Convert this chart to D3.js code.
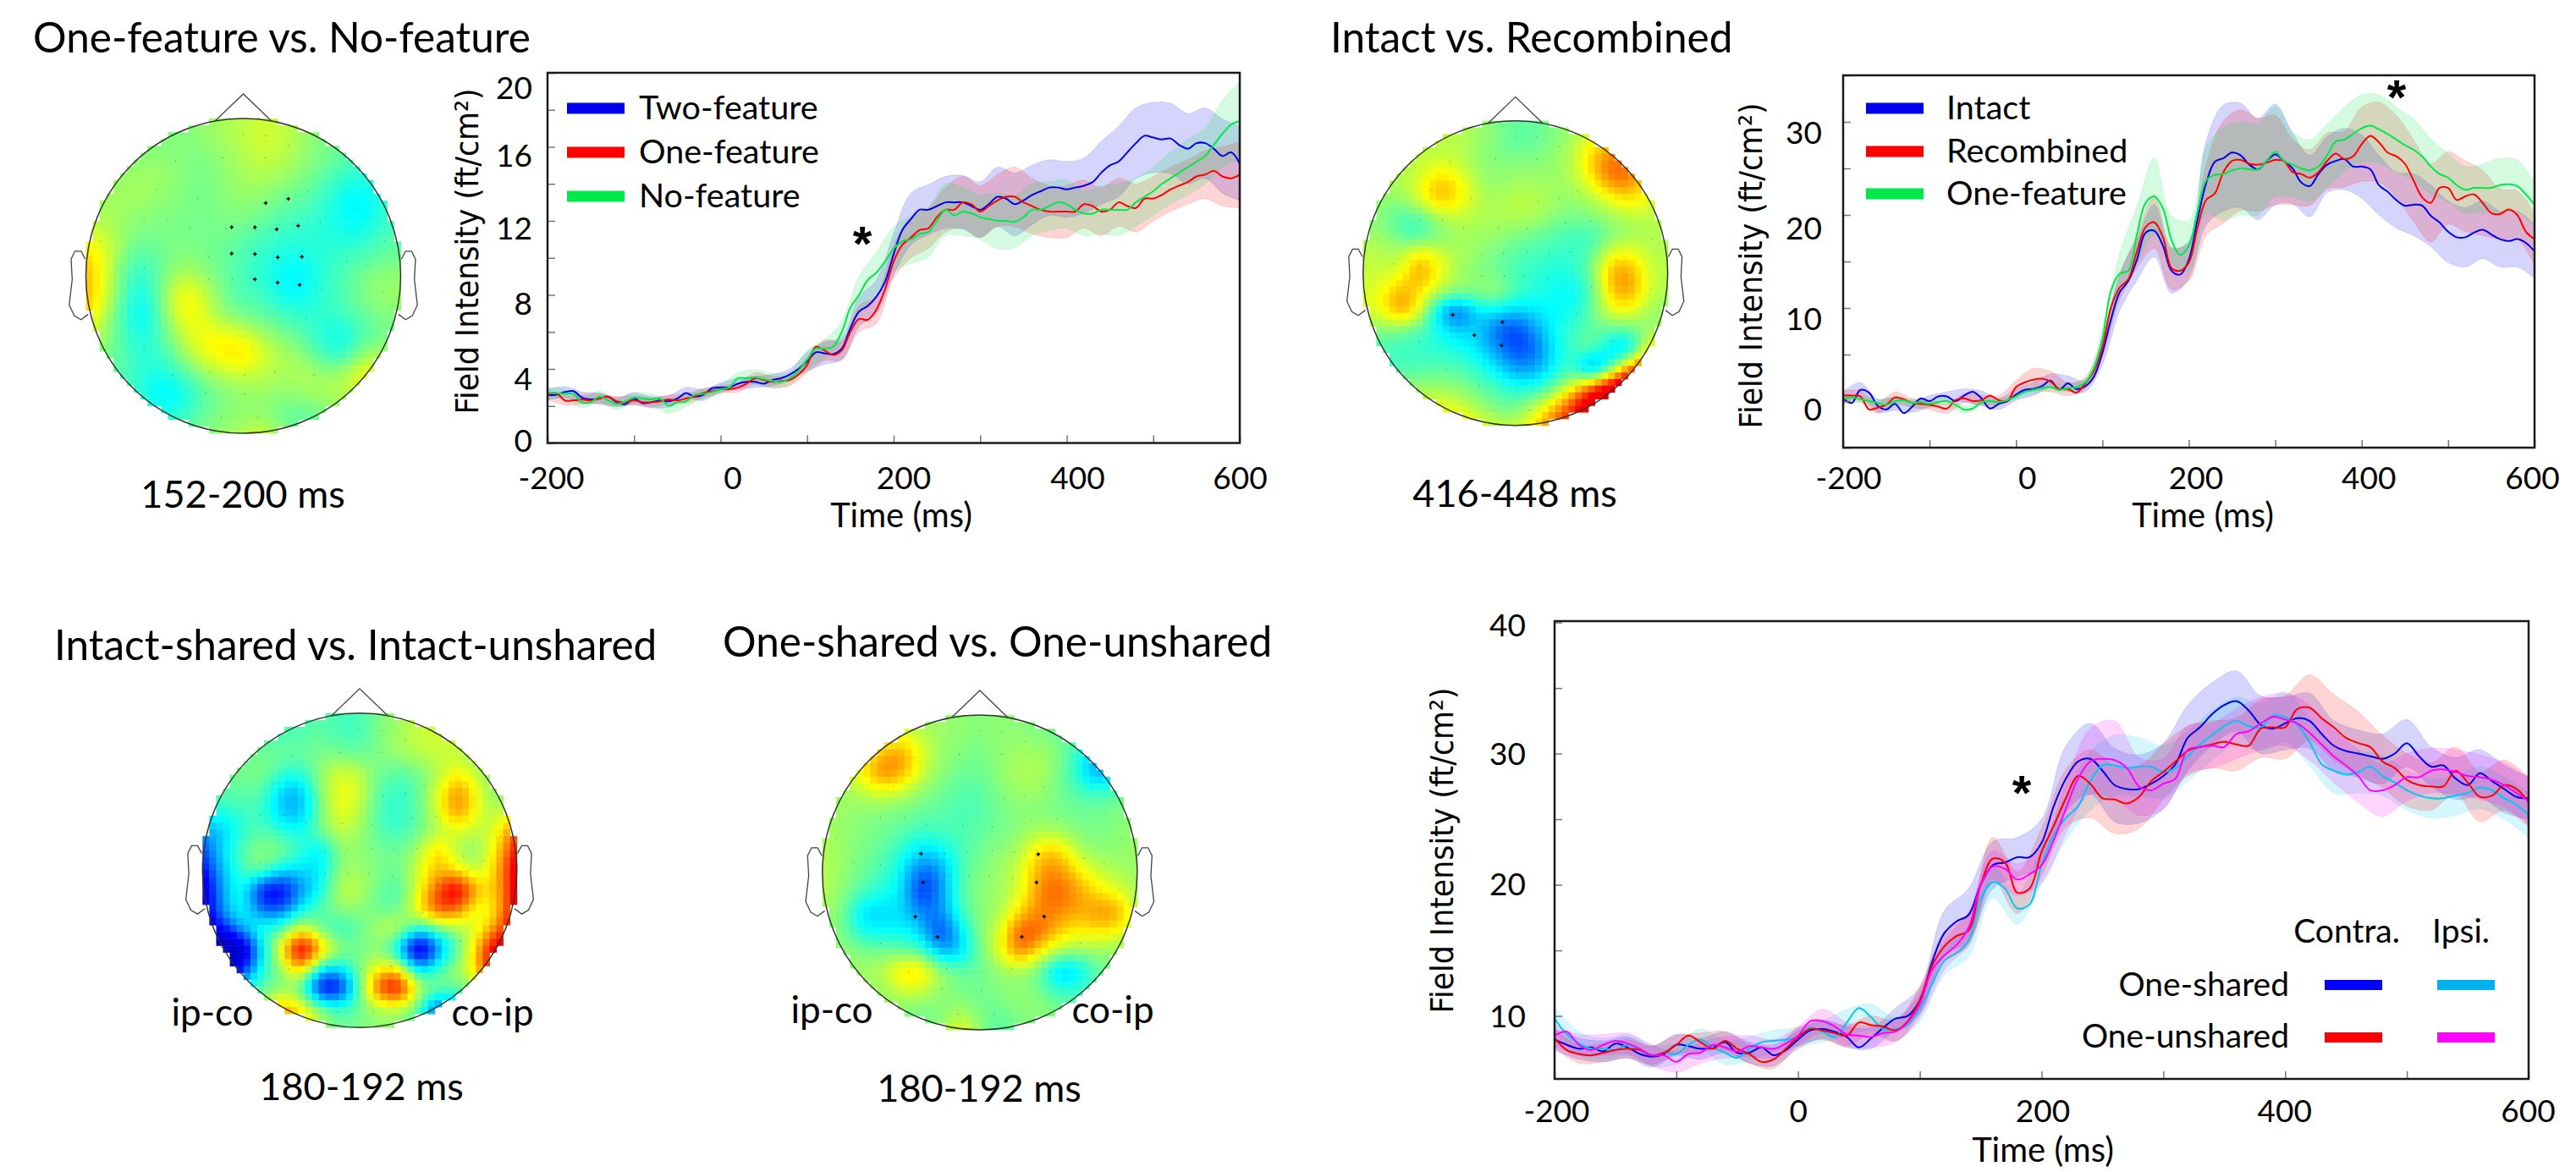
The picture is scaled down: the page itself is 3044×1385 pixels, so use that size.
<!DOCTYPE html>
<html>
<head>
<meta charset="utf-8">
<title>Field intensity and topographies</title>
<script src="https://cdn.jsdelivr.net/npm/d3@7"></script>
<style>
  html, body { margin: 0; background: #fff; }
  text { font-family: Lato, sans-serif; fill: #000; }
</style>
</head>
<body>
<svg id="chart" width="3044" height="1385"></svg>
<script>
// time axis, one value every 10 ms (means) and every 20 ms (error half widths)
const times = d3.range(-200, 601, 10);
const errTimes = d3.range(-200, 601, 20);

const twoFeature = [2.6,2.6,2.75,2.8,2.45,2.35,2.4,2.5,2.2,2.1,2.4,2.15,2.2,2.3,2.25,2.4,2.7,2.5,2.6,2.95,3,3,3.2,3.3,3.3,3.2,3.4,3.5,3.7,4,4.4,4.9,4.85,4.8,5.1,6.2,7.1,7.4,7.9,8.7,10.2,11.5,12.1,12.6,12.6,12.8,13,13,13,12.8,12.6,12.9,13.3,13.2,12.9,13.1,13.4,13.6,13.8,13.8,13.7,13.8,13.9,14.1,14.6,15,15.2,15.7,16.2,16.6,16.5,16.4,16.45,16.1,15.9,16.2,16.2,15.9,15.5,15.7,15.1];
const oneFeature = [2.6,2.7,2.3,2.3,2.35,2.3,2.4,2.5,2.25,2.2,2.3,2.2,2.2,2.25,2.35,2.3,2.4,2.5,2.7,2.8,2.9,2.9,3,3.2,3.5,3.4,3.3,3.35,3.4,3.7,4.2,5.2,5,4.75,5,6,6.7,6.65,7.2,8.3,9.8,10.7,11.1,11.5,11.6,12.2,12.6,12.6,13,12.9,12.5,12.8,13.1,13.3,13.3,13,12.8,12.6,12.5,12.5,12.5,12.5,12.9,12.8,12.5,12.6,13,12.8,12.7,13.2,13.2,13.4,13.7,13.9,14.1,14.4,14.5,14.7,14.4,14.3,14.5];
const noFeature = [2.7,2.7,2.65,2.65,2.2,2.2,2.5,2.3,2.1,2.25,2.45,2.4,2.35,2.4,2,2.2,2.25,2.6,2.65,2.75,2.9,3,3.5,3.5,3.55,3.45,3.35,3.3,3.5,3.9,4.5,5.1,5.1,5.2,6,7.3,8,8.8,9.2,9.8,10.5,10.9,11,11.3,11.4,12,12.6,12.3,12.5,12.4,12.2,12.1,12,12,11.95,12.2,12.6,12.6,12.8,13,12.9,12.6,12.4,12.4,12.6,12.6,12.6,12.6,13,13.3,13.6,14,14.3,14.6,14.9,15.2,15.5,16.1,16.7,17.2,17.4];
const twoFeatureErr = [.3,.3,.3,.3,.25,.3,.3,.3,.3,.3,.25,.3,.3,.3,.3,.5,.6,.6,.8,.9,1.1,1.4,1.35,1.4,1.45,1.5,1.6,1.7,1.6,1.5,1.5,1.5,1.7,1.9,1.9,1.9,1.9,1.9,1.9,2,2];
const oneFeatureErr = [.25,.25,.25,.25,.25,.25,.25,.25,.25,.25,.2,.25,.3,.3,.3,.4,.55,.5,.7,.75,.9,1.1,1.1,1.2,1.4,1.4,1.4,1.6,1.5,1.4,1.4,1.3,1.3,1.3,1.3,1.2,1.2,1.2,1.3,1.6,1.8];
const noFeatureErr = [.3,.25,.3,.3,.3,.3,.3,.4,.3,.25,.25,.3,.4,.4,.35,.5,.5,.6,1,1.1,1.2,1.3,1.35,1.4,1.3,1.2,1.5,1.4,1.4,1.3,1.3,1.2,1.3,1.4,1.3,1.3,1.4,1.5,1.5,1.8,2.1];

const intact = [.3,-.2,1.2,.9,-.5,-.9,-.3,-1.3,-.6,.3,0,.5,.5,0,.6,1,.3,-.8,-.3,0,.7,1.2,1.3,1.6,2.2,1.2,1.9,1.3,1.6,2.6,5.2,8.8,11.7,12.9,15.2,18.1,18.3,16.7,14,13.6,15.2,19.5,23.4,25.7,26.1,26.7,26.4,25.4,24.9,25.8,26.5,25.8,25,23.5,23.1,24.4,25.4,25.8,26,25.2,25.2,24.9,23.2,22.5,21.6,21,21.1,21,19.9,19.2,18.2,17.6,17.6,18.1,18.4,17.9,17.4,17.2,17.4,17,16.1];
const recombined = [.6,.6,.5,-.9,-.7,-.4,.4,.2,-.2,-.3,-.4,-.6,-.8,.1,.3,0,.1,.6,.1,0,1.5,2,2.3,2.4,2.1,1.3,1.3,.9,1.9,3.2,5.8,10.1,12.2,13.1,16.1,18.7,19.2,17.6,14.3,14,14.9,18.6,21.6,22.3,24.6,25.8,25.9,25.5,25.4,25.6,25.9,25.8,24.6,24.4,24,24.6,25.8,26.6,26,26.3,27.6,28.5,27.8,26.7,26.3,25.5,23.7,21.9,21.3,22.9,22.9,21.6,22,22.2,21.3,20.2,20.1,20.6,20,18.2,17.4];
const oneFeatureB = [.2,.4,.2,0,-.2,-.4,0,.1,-.2,-.1,-.3,-.1,0,-.4,-.9,-.8,-.1,0,-.1,.1,.5,1,1.2,1.4,1.5,1.2,1.4,1.5,2,3.5,6.7,11.9,13.7,14,17.9,21.3,22,20.7,17.3,15.7,16.7,20.4,23.7,24.3,24.4,24.8,25,24.9,24.9,25.8,26.8,25.8,25.4,25,24.8,25.2,26.4,27.9,28.1,28.7,29.3,29.6,29.2,28.7,28.1,27.5,27,26.3,25.2,24.4,24,23.2,22.7,22.9,22.9,22.9,23.2,23.3,23.1,22.2,21.1];
const intactErr = [.7,.8,.7,.7,.6,.6,.5,.7,.8,.6,.6,.7,.7,.8,.6,1.3,2,2.2,2.8,2.4,2,4.5,5.7,5.6,5.4,5.4,3.8,3.3,3,3.3,3.4,3.2,3,3.3,3.3,3.3,3.2,3.1,3,3,2.9];
const recombinedErr = [.5,.6,.6,.6,.5,.5,.5,.5,.5,.5,.7,1.2,1.1,.7,.6,1,1.3,1.8,2.8,2.3,2,3.8,5.5,5.4,5,4.8,3.5,3,3,3,4,4.3,4.4,4.4,4.2,3.9,3.8,3.5,2.7,2.6,2.8];
const oneFeatureBErr = [.4,.4,.4,.4,.4,.4,.4,.4,.3,.3,.3,.4,.4,.4,.5,1.2,2.2,3,4.1,2.6,2.7,3.6,5,5,4.9,4.8,3.5,3.3,3.4,3.5,3.6,3.7,3.5,3.3,3,2.6,2.5,2.6,2.9,2.8,2.4];

const sharedContra = [8.2,7.8,7.5,7.6,7.3,7.9,7.6,7.1,6.9,7.1,7.8,7.7,7.5,7.6,8,7.2,7.2,7.6,7,7.4,8.2,8.9,9,8.8,8.4,7.6,8.3,9.1,9.8,10,11.2,14.1,16.3,17.2,17.7,20,21.5,21.7,22.1,22.1,23.2,26,28.1,29.4,29.6,28.7,27.6,27.3,27.3,27.7,28.3,29.2,31.2,32,33,33.7,34,33.3,32.2,31.9,32.3,32.7,32.5,31.5,30.6,30.2,30,29.8,29.6,30,30.8,29.8,29,29.1,28.1,27.6,28.5,27.9,27.3,26.7,26.6];
const unsharedContra = [8.3,7.4,7.1,7,7.2,7.4,7.5,7.4,7,7.2,7.8,8.5,8,7.5,8.1,7.5,7.1,6.5,6.7,7.5,8.4,9,8.9,8.7,8.5,9.5,9.3,9.2,8.9,9.6,11.2,13.8,15.3,16.1,16.5,20,22,21.7,19.4,19.7,22.5,24.5,26.6,28.3,27.7,26.6,26.5,26.2,26.7,27.9,28.6,29.4,30.2,30.5,30.7,30.9,30.7,30.6,31.9,32,32,33.4,33.5,32.7,32,31.2,30.8,30.5,29.4,28.9,28,27.6,27.5,27.5,28.7,27.8,26.7,26.8,27.6,27.3,26.3];
const sharedIpsi = [9.8,8.6,7.9,7.5,7.5,7.4,7.8,7.4,7,7.2,7.1,7.8,8.2,7.6,7.2,6.8,7.5,8,8.1,8.2,8.4,9.1,8.8,8.4,9.5,10.6,9.9,9,9,9.3,10.6,12.4,14.2,14.8,15.7,18.9,20.2,19.7,18.2,18.5,21.5,23.8,25.1,26,27.9,29.1,29.1,28.9,29,29,28.6,28.9,29.8,30.7,31.4,32.1,32.5,32.1,32,32.9,32.8,32.2,30.9,29.2,28.7,28.4,28.6,29,28.3,27.8,27.2,26.8,26.6,26.6,26.8,27,27.4,27.2,26.6,26.1,25.3];
const unsharedIpsi = [8.5,8.8,7.8,7.4,7.8,8.1,7.9,7.5,7,7,6.5,7.1,7.2,7.8,7.6,7.3,7.7,7.6,7.5,7.9,8.5,9.6,9.6,9.2,8.6,8.5,8.4,8.7,8.8,9.5,10.9,13.5,14.6,15.4,16.7,20,21.4,21.2,20.4,20.8,21.5,23.4,25.8,28.1,29.4,29.6,29.5,28.9,27.5,27.2,27.7,28.1,30.3,30.5,30.6,30.5,31.5,31.7,32.3,32.8,32.6,32.3,31.6,30.7,29.8,29.1,28.3,27.2,27.2,27.6,28.2,28.2,28.7,28.8,28.6,28.3,28.2,28,27.6,27,26.4];
const sharedContraErr = [.8,.8,.8,.8,.8,.8,.8,.8,.8,.8,.7,.7,.8,.8,.8,1,1.7,2,1.8,1.5,1.8,2.5,2.7,2.8,2.6,2.5,2.5,2.4,2.3,2.2,2,2.1,1.9,1.8,1.9,1.8,1.5,1.6,1.8,1.8,1.6];
const unsharedContraErr = [.7,.7,.7,.7,.7,.7,.7,.7,.7,.7,.7,.7,.8,.7,.8,1,1.1,1.2,1.6,1.6,1.8,2.2,2.6,2.6,2.4,2.1,1.9,1.8,2,2.2,2.4,2.5,2.5,2.4,2,2,1.8,1.8,1.9,1.9,1.9];
const sharedIpsiErr = [.9,.9,.8,.8,.8,.8,.8,.9,.9,.8,.7,.8,1,1,.9,1,1.1,1.2,1.2,1.2,1.4,1.7,2.2,2.3,2.2,2,1.9,1.9,1.8,1.8,1.9,1.8,1.7,1.6,1.5,1.5,1.5,1.5,1.6,1.6,1.7];
const unsharedIpsiErr = [.8,.8,.8,.8,.8,.8,.8,.8,.8,.7,.7,.9,.9,.8,.8,1,1.1,1.2,1.2,1.2,1.4,1.9,2.5,3,2.2,1.9,1.8,1.7,1.9,2,2,2.1,2,2,2,1.8,1.7,1.7,1.7,1.7,1.8];

// field maps, read on a 17x17 grid over the head box, -10 blue to 10 red
const mapOneFeature = [
  [0,0,0,0,0,0,.3,.6,.9,1.2,1,.5,0,-.3,-.4,-.4,-.4],
  [0,0,0,0,0,0,.3,.6,.9,1.3,1.1,.5,0,-.3,-.4,-.4,-.4],
  [0,0,0,.2,.2,0,-.1,.3,.7,1.1,.9,.3,-.1,-.5,-.7,-.6,-.4],
  [.3,.3,.4,.6,.4,.1,-.2,.2,.6,.7,.4,0,-.5,-1.2,-1.5,-1,-.5],
  [.4,.5,.6,.5,.2,0,-.2,.1,.3,.2,-.2,-.5,-1,-1.8,-2.2,-1.4,-.6],
  [.6,.6,.3,.1,0,-.1,-.2,0,0,-.3,-.7,-1,-1.3,-1.8,-2.2,-1.4,-.7],
  [1.5,1.2,.3,-.2,-.1,-.1,-.2,-.2,-.5,-.9,-1.2,-1.3,-1.4,-1.6,-1.5,-.9,-.6],
  [2.5,1.6,-.3,-.8,-.2,.1,-.1,-.4,-.8,-1.2,-1.6,-1.6,-1.3,-1,-.8,-.5,-.3],
  [3,1.6,-.8,-1.4,0,.9,.4,-.4,-.9,-1.3,-2,-2.2,-1.3,-.8,-.2,.3,.3],
  [3,1.5,-1,-1.9,.3,2.3,1.2,-.2,-.8,-1,-1.8,-2,-1.2,-.8,-.1,.4,.4],
  [2.5,.8,-1.3,-2.3,.1,2,1.5,.2,-.3,-.5,-.9,-1.2,-1.2,-1,-.5,0,0],
  [1.5,.3,-1,-1.7,-.5,1.2,1.9,1.9,1.5,.6,-.1,-.6,-1.5,-1.9,-.9,-.3,-.1],
  [.6,0,-.8,-1.4,-.9,.4,1.7,2.4,2.6,1.4,.7,.3,-.9,-1.5,.3,.6,.3],
  [.2,-.3,-.7,-1.5,-1.7,-.8,.2,.9,1.1,.9,.6,.8,.4,.5,2,2,.7],
  [0,-.3,-.8,-1.6,-2.4,-1.8,-.6,-.1,.3,.4,.2,.4,.7,.9,1.1,.8,.4],
  [0,-.3,-.6,-.9,-1.6,-1.2,-.4,.1,.2,.2,-.4,-.6,-.2,0,.1,.1,0],
  [0,0,-.3,-.3,-.6,-.3,0,.4,.7,1.3,.2,-.7,-.4,-.2,0,0,0]
];
const mapIntact = [
  [1,1,1,1,1,1,.5,0,-.5,-.5,0,.5,1.5,2,2,2,2],
  [1,1,1,1,1,1,.5,0,-.8,-.6,0,.6,2,2.8,3,2.5,2],
  [.8,.8,1,1,1.2,1,.3,0,0,0,.3,1,3,5,4,2,1.5],
  [.6,.6,.8,1.5,3,2.2,.6,.2,.5,.5,.4,.8,2.5,5,5,2,1],
  [.5,.5,.5,2,4,2.8,1,.6,1,1,.6,.4,.8,2,3,2,1],
  [0,0,-1,-.8,.9,1.2,.8,.8,1,.9,.2,-.2,.2,.6,1,1,.8],
  [.5,.5,-.8,-1.5,-.2,.5,.6,.4,0,-.3,-.8,-1,-1.4,-.2,.4,.8,.8],
  [1,1,.8,3,1.5,.8,.3,-.2,-.8,-1,-1.2,-1.4,-.7,2,2.2,1,.8],
  [1.2,1.2,1.5,4.5,2,.5,0,-.4,-1,-1.4,-1.7,-1.7,-.3,4,4.2,1.3,1],
  [1.5,2,4,2.5,1,.5,.3,.8,-1,-1.6,-2,-2.4,-1,3,4.3,1.2,.8],
  [1.5,2,4.5,2,-3.5,-6,-2.5,-2.5,-3,-2.5,-2.2,-2,-.5,2,2,.5,.3],
  [0,0,-.5,-1,-2,-3,-2.8,-5,-6,-4,-2,-1.2,-.5,-.8,-.5,.3,.3],
  [-1,-1,-1.2,-1.2,-1.5,-1.8,-2.5,-4,-5.5,-5,-2.5,-1,0,-3,-4,2.5,4],
  [-1,-1,-1,-1,-.8,-.8,-1.4,-2.5,-4,-4,-2.2,-1,-6,-1.5,5,7,7],
  [0,0,.5,.5,.5,.2,-.5,-1,-1.8,-1.8,-.8,2,5.5,9,10,9,6],
  [1,1,1.5,1.5,1.8,1.5,.5,-.2,-.5,1,3,6,9,10,10,8,6],
  [2,2,2,2.5,3,3,2,1,1,2.5,5,7,8,8,8,8,6]
];
const mapIntactShared = [
  [-1,-1,-1,-1,-1,-.8,-.5,-1,-1,0,.5,1,1,1,.5,.2,0],
  [-1,-1,-1,-1,-1,-.8,-.5,-1,-1,0,.5,1.2,1.3,1.2,.5,.2,0],
  [-.5,-.5,-.5,-.2,-.3,-.3,-.2,-.3,-.6,0,.6,1,1.2,1,0,-.5,-.5],
  [-.3,-.3,-.2,.2,-1,-1.5,.5,1.5,1,-.3,-.7,-.2,.7,2,1,-.3,-.5],
  [-.5,-.5,-.5,-.5,-3,-3.5,.2,2,1.5,-.8,-1.3,-.6,1.5,4.5,1.5,0,.3],
  [-1.5,-1.5,-1,-1,-3,-3.5,-.2,2,1,-1,-1.5,-.5,1.5,4.5,1.5,.5,2],
  [-3.5,-3,-1.5,-.5,-1.5,-2,0,1.2,.5,-.8,-1.2,-.4,.5,1.5,.8,1.5,5],
  [-5,-2.5,-.5,.2,.3,-1,-3,.3,.2,-.2,-.3,.5,3.5,.4,0,2.5,6],
  [-6,-3,-1,.5,-2.5,-2.5,-2.5,.5,.5,0,-.5,1.5,3,2,.5,3,7],
  [-7.5,-3.5,-1,-7,-7,-4,-2,1.2,1,-.5,-1,1.5,5,8,3,2.5,7],
  [-7,-3.5,-1.2,-4.5,-5,-2,-.5,.3,.2,-.5,-.7,2.5,5.5,4.5,.8,2.5,7],
  [-8,-6,-3,-1,-1,2,-.8,-1.8,-.5,1,1.8,-2,-.5,.2,1.5,4,7],
  [-9,-10,-9,-2.5,2,9,4,.5,-.3,.2,-3,-10,-4,-.8,3,8,7],
  [-9,-9,-6,-1.5,0,4,-2.5,-2.5,0,2,2.5,-3.5,-.8,.5,3,8,7],
  [-3,-3,-2,-.5,-.2,-.5,-8,-7,-.5,6,8,1,.3,-.5,.5,3,3],
  [0,0,0,.5,4,2.5,.5,-1,-.3,.5,.5,-.5,-6,-3,-1,0,0],
  [0,0,0,1,4,3,.5,-.5,0,.3,.3,-.5,-5,-3,-1,0,0]
];
const mapOneShared = [
  [.5,.5,.5,.5,.5,.5,.5,.3,0,.3,.2,-.3,-.5,-.8,-1,-1,-1],
  [1,1,1,1.5,2,1.2,.5,.3,.1,.3,.3,0,-.4,-1,-1.5,-1.2,-1],
  [1,1,2,4,5,2,.5,0,-.3,.3,.7,.8,.2,-1.5,-5,-3,-1],
  [1,1,2.5,5.5,4.5,1.5,.2,-.5,-.5,.3,1,1,-.2,-2,-5,-2.5,-.8],
  [.5,.5,1,1.5,1,.2,-.3,-.9,-.9,0,.5,.5,-.2,-.8,-1.2,-.6,-.3],
  [.5,.5,.2,0,-.2,-.5,-.8,-1.1,-1,-.3,.1,.1,-.2,-.3,-.3,0,.3],
  [.8,.5,0,-.3,-.7,-1.5,-1.2,-1,-.6,-.2,.2,1,.8,0,-.2,.2,.5],
  [1,.5,-.2,-.6,-1.8,-3.5,-3,-1.2,-.3,.3,.8,3.5,4,1,.3,.3,.5],
  [1,.5,-.5,-1,-2.5,-6,-5,-1,0,.6,1.5,4.5,5,3,1.5,.8,.5],
  [1,.3,-1,-2,-2.5,-7.5,-5,-.8,.2,.6,1.5,5,6,4.5,3,2,.8],
  [.8,0,-3.5,-3.5,-3,-5,-5,-1.3,.2,.6,3,5,5,4,5,5,1],
  [.5,0,-2.5,-2.5,-2.5,-3,-7.5,-3,.2,1.5,6.5,6,3.5,2.5,3,2.5,.8],
  [.5,.5,0,0,-.5,-1,-4.5,-4,-.2,2,6,3,1,.5,.5,.2,.3],
  [.5,.5,.7,.8,3.5,4,.6,-.4,-.5,.3,.5,-.5,-4.5,-3.5,-.5,0,.2],
  [.5,.5,.5,.5,1.5,1.5,.3,-.2,-.4,.2,.4,0,-1.5,-1.5,-.3,0,.2],
  [.2,.2,.2,.2,.1,-.2,-.2,.8,-.2,-.6,.3,.3,0,-.3,-.1,0,0],
  [0,0,0,0,-.3,-.4,.3,2.5,.2,-1,-.3,0,0,0,0,0,0]
];

// sensor positions in head units
const sensorLayout = [[0,-.9],[.14,-.89],[-.13,-.75],[.14,-.75],[-.43,-.73],[.29,-.83],[-.29,-.49],[.15,-.47],[.29,-.49],[-.55,-.55],[.41,-.54],[-.63,-.35],[-.48,-.35],[-.34,-.3],[-.11,-.3],[.08,-.29],[.33,-.33],[.49,-.34],[-.91,-.22],[-.8,-.06],[-.63,-.05],[-.22,-.12],[-.08,-.13],[.08,-.14],[.22,-.13],[.36,-.14],[.66,-.09],[.79,-.06],[.9,-.22],[-.22,.02],[-.07,.02],[.06,.02],[.21,.04],[.5,.09],[.89,.1],[-.63,.45],[-.45,.63],[-.21,.61],[.01,.63],[.2,.61],[.4,.27],[.64,.45],[.45,.63],[-.24,.74],[.01,.75],[-.14,.9],[.09,.9]];
const sigOneFeature = [[.286,-.489],[.142,-.462],[-.074,-.309],[.074,-.309],[.212,-.296],[.349,-.319],[-.074,-.143],[.074,-.138],[.219,-.117],[.372,-.121],[.074,.021],[.218,.043],[.358,.057]];
const sigIntact = [[-.411,.274],[-.085,.322],[-.269,.407],[-.091,.476]];
const sigIntactShared = [];
const sigOneShared = [[-.373,-.12],[-.36,.063],[-.41,.281],[-.269,.41],[.371,-.116],[.36,.063],[.409,.281],[.267,.41]];
const noseShape = [[-.183,-.98],[0,-1.156],[.183,-.98]];
const earShape = [[1.004,-.107],[1.031,-.157],[1.069,-.157],[1.094,-.107],[1.087,.022],[1.106,.185],[1.074,.253],[1.031,.278],[.985,.244]];

const xTicks = d3.range(-200, 601, 100);
const xLabels = [-200, 0, 200, 400, 600];
const colBlue = "#0000ee", colRed = "#ff0000", colGreen = "#00e84a", colCyan = "#00c8f0", colMagenta = "#ff00ff";

const svg = d3.select("#chart");

const jet = d3.scaleLinear()
  .domain([-10, -7.5, -2.5, 0, 2.5, 7.5, 10])
  .range(["#0000c8", "#0000ff", "#00ffff", "#80ff80", "#ffff00", "#ff0000", "#e00000"])
  .clamp(true);

function label(x, y, str, size, anchor) {
  return svg.append("text")
    .attr("x", x).attr("y", y)
    .attr("font-size", size)
    .attr("text-anchor", anchor || "middle")
    .attr("dominant-baseline", "central")
    .text(str);
}

// gain makes up for the peak loss of the spline smoothing
function drawHead(cx, cy, r, grid, sig, gain) {
  const g = svg.append("g");
  const x = d3.scaleLinear().domain([-1, 1]).range([cx - r, cx + r]);
  const y = d3.scaleLinear().domain([-1, 1]).range([cy - r, cy + r]);
  const n = 46;
  const cell = d3.scaleBand().domain(d3.range(n)).range([-1, 1]);
  const rowCurves = grid.map(row => d3.interpolateBasis(row));
  const cells = [];
  d3.range(n).forEach(i => {
    const u = (i + 0.5) / n;
    const column = d3.interpolateBasis(rowCurves.map(f => f(u)));
    d3.range(n).forEach(j => {
      const nx = cell(i) + cell.bandwidth() / 2, ny = cell(j) + cell.bandwidth() / 2;
      if (Math.hypot(nx, ny) < 1.005) cells.push({ i, j, v: column((j + 0.5) / n) * gain });
    });
  });
  g.selectAll("rect").data(cells).join("rect")
    .attr("x", d => x(cell(d.i)))
    .attr("y", d => y(cell(d.j)))
    .attr("width", x(cell.bandwidth()) - x(0) + 0.5)
    .attr("height", y(cell.bandwidth()) - y(0) + 0.5)
    .attr("fill", d => jet(d.v));

  const outline = d3.line().x(d => x(d[0])).y(d => y(d[1]));
  g.append("circle").attr("cx", cx).attr("cy", cy).attr("r", r)
    .attr("fill", "none").attr("stroke", "#333").attr("stroke-width", 1.5);
  g.append("path").attr("d", outline(noseShape)).attr("fill", "none").attr("stroke", "#444").attr("stroke-width", 1.3);
  g.append("path").attr("d", outline(earShape)).attr("fill", "none").attr("stroke", "#444").attr("stroke-width", 1.3);
  g.append("path").attr("d", outline(earShape.map(d => [-d[0], d[1]]))).attr("fill", "none").attr("stroke", "#444").attr("stroke-width", 1.3);

  g.selectAll("circle.sensor").data(sensorLayout).join("circle")
    .attr("class", "sensor")
    .attr("cx", d => x(d[0])).attr("cy", d => y(d[1])).attr("r", 0.7)
    .attr("fill", "#000").attr("opacity", 0.35);
  g.selectAll("path.sig").data(sig).join("path")
    .attr("class", "sig")
    .attr("d", d3.symbol(d3.symbolCross, 11))
    .attr("transform", d => `translate(${x(d[0])},${y(d[1])})`)
    .attr("fill", "#000");
}

function drawPanel(p) {
  const x = d3.scaleLinear().domain([-200, 600]).range([p.left, p.right]);
  const y = d3.scaleLinear().domain(p.yDomain).range([p.bottom, p.top]);
  const g = svg.append("g");

  const clipId = "clip" + p.left;
  g.append("clipPath").attr("id", clipId).append("rect")
    .attr("x", p.left).attr("y", p.top).attr("width", p.right - p.left).attr("height", p.bottom - p.top);
  const plot = g.append("g").attr("clip-path", `url(#${clipId})`);

  p.series.forEach(s => {
    const band = d3.area()
      .x((d, i) => x(errTimes[i]))
      .y0((d, i) => y(s.values[i * 2] - d))
      .y1((d, i) => y(s.values[i * 2] + d))
      .curve(d3.curveCatmullRom);
    plot.append("path").attr("d", band(s.err))
      .attr("fill", s.color).attr("fill-opacity", 0.17)
      .attr("stroke", s.color).attr("stroke-opacity", 0.12).attr("stroke-width", 1);
  });
  p.series.forEach(s => {
    const line = d3.line().x((d, i) => x(times[i])).y(d => y(d)).curve(d3.curveCatmullRom);
    plot.append("path").attr("d", line(s.values))
      .attr("fill", "none").attr("stroke", s.color).attr("stroke-width", 2);
  });

  const xAxis = d3.axisBottom(x).tickValues(xTicks).tickSizeInner(-9).tickSizeOuter(0)
    .tickFormat(d => xLabels.includes(d) ? d : "").tickPadding(0);
  const yAxis = d3.axisLeft(y).tickValues(p.yTicks).tickSizeInner(-9).tickSizeOuter(0)
    .tickFormat(d => p.yLabels.includes(d) ? d : "").tickPadding(0);

  const gx = g.append("g").attr("transform", `translate(0,${p.bottom})`).call(xAxis);
  const gy = g.append("g").attr("transform", `translate(${p.left},0)`).call(yAxis);
  [gx, gy].forEach(a => {
    a.select(".domain").remove();
    a.selectAll("line").attr("stroke", "#777").attr("stroke-width", 1.5);
    a.selectAll("text").attr("font-size", p.tickSize).attr("font-family", "Lato");
  });
  gx.selectAll("text")
    .attr("y", p.xLabelY - p.bottom).attr("dy", 0).attr("dominant-baseline", "central")
    .attr("dx", d => p.xLabelDx[xLabels.indexOf(d)] || 0);
  gy.selectAll("text")
    .attr("x", p.yLabelX - p.left).attr("dy", 0).attr("dominant-baseline", "central")
    .attr("transform", d => `translate(0,${p.yLabelDy[p.yLabels.indexOf(d)] || 0})`);

  g.append("rect").attr("x", p.left).attr("y", p.top)
    .attr("width", p.right - p.left).attr("height", p.bottom - p.top)
    .attr("fill", "none").attr("stroke", "#1a1a1a").attr("stroke-width", 2.5);

  // y title is a wide face, stretched across the baseline
  svg.append("text")
    .attr("transform", `translate(${p.yTitleX},${p.yTitleY}) rotate(-90) scale(1,1.3)`)
    .attr("text-anchor", "middle").attr("dominant-baseline", "central")
    .attr("font-size", 29).style("font-family", "'DejaVu Sans'")
    .attr("textLength", 385).attr("lengthAdjust", "spacingAndGlyphs")
    .text("Field Intensity (ft/cm²)");

  label(p.xTitleX, p.xTitleY, "Time (ms)", p.titleSize);

  svg.append("text")
    .attr("x", p.starX).attr("y", p.starY)
    .attr("text-anchor", "middle")
    .attr("font-size", 58).attr("font-weight", 700)
    .style("font-family", "'Liberation Sans'")
    .text("*");
}

function drawSeriesLegend(p) {
  p.series.forEach((s, i) => {
    svg.append("rect")
      .attr("x", p.legendX).attr("y", p.legendY[i] - 6.5)
      .attr("width", 68).attr("height", 13)
      .attr("fill", s.color);
    label(p.legendTextX, p.legendY[i] - 3, s.name, 39.5, "start");
  });
}

const panelA = {
  left: 647, right: 1465, top: 86, bottom: 523.5,
  yDomain: [0, 20], yTicks: d3.range(0, 21, 2), yLabels: [0, 4, 8, 12, 16, 20],
  yLabelX: 629, yLabelDy: [-5, 10, 8, 7, 8, 16],
  xLabelY: 563, xLabelDx: [4, 14, 11.5, 12.5, 0],
  tickSize: 37, titleSize: 40,
  yTitleX: 552, yTitleY: 297, xTitleX: 1065, xTitleY: 608,
  starX: 1019, starY: 308,
  legendX: 670, legendTextX: 755, legendY: [128, 180, 232],
  series: [
    { name: "Two-feature", color: colBlue, values: twoFeature, err: twoFeatureErr },
    { name: "One-feature", color: colRed, values: oneFeature, err: oneFeatureErr },
    { name: "No-feature", color: colGreen, values: noFeature, err: noFeatureErr }
  ]
};
const panelB = {
  left: 2178, right: 2995, top: 89, bottom: 529,
  yDomain: [-5, 35], yTicks: d3.range(-5, 36, 5), yLabels: [0, 10, 20, 30],
  yLabelX: 2153, yLabelDy: [8, 11, 14, 11],
  xLabelY: 563, xLabelDx: [6, 13, 8, 8, -3],
  tickSize: 37, titleSize: 40,
  yTitleX: 2069, yTitleY: 314, xTitleX: 2603, xTitleY: 608,
  starX: 2832, starY: 135,
  legendX: 2205, legendTextX: 2300, legendY: [128, 179, 229],
  series: [
    { name: "Intact", color: colBlue, values: intact, err: intactErr },
    { name: "Recombined", color: colRed, values: recombined, err: recombinedErr },
    { name: "One-feature", color: colGreen, values: oneFeatureB, err: oneFeatureBErr }
  ]
};
const panelC = {
  left: 1837, right: 2988, top: 734, bottom: 1275,
  yDomain: [5.2, 40.1], yTicks: d3.range(10, 41, 5), yLabels: [10, 20, 30, 40],
  yLabelX: 1803, yLabelDy: [-2, -3, -2, 1],
  xLabelY: 1311, xLabelDx: [2, 0, 1, -1, -1],
  tickSize: 37, titleSize: 40,
  yTitleX: 1704, yTitleY: 1005, xTitleX: 2414, xTitleY: 1358,
  starX: 2389, starY: 957,
  series: [
    { name: "One-shared contra", color: colBlue, values: sharedContra, err: sharedContraErr },
    { name: "One-shared ipsi", color: colCyan, values: sharedIpsi, err: sharedIpsiErr },
    { name: "One-unshared contra", color: colRed, values: unsharedContra, err: unsharedContraErr },
    { name: "One-unshared ipsi", color: colMagenta, values: unsharedIpsi, err: unsharedIpsiErr }
  ]
};

drawHead(287.5, 326, 186, mapOneFeature, sigOneFeature, 1.3);
drawHead(1790.7, 322.7, 180, mapIntact, sigIntact, 1.15);
drawHead(425, 1028.5, 185.7, mapIntactShared, sigIntactShared, 1.25);
drawHead(1157.8, 1031, 186, mapOneShared, sigOneShared, 1);

[panelA, panelB, panelC].forEach(drawPanel);
drawSeriesLegend(panelA);
drawSeriesLegend(panelB);

// grouped legend of the lower panel
label(2773, 1099, "Contra.", 39);
label(2908, 1099, "Ipsi.", 39);
label(2705, 1162, "One-shared", 39, "end");
label(2705, 1223, "One-unshared", 39, "end");
[[2747, 1158, "#0000ff"], [2880, 1158, "#00b0f0"], [2747, 1220, "#ff0000"], [2880, 1220, "#ff00ff"]].forEach(d => {
  svg.append("rect").attr("x", d[0]).attr("y", d[1]).attr("width", 68).attr("height", 12).attr("fill", d[2]);
});

// titles and window labels
label(39, 43, "One-feature vs. No-feature", 49.5, "start");
label(1572, 43, "Intact vs. Recombined", 49.5, "start");
label(64, 761, "Intact-shared vs. Intact-unshared", 49.5, "start");
label(854, 757, "One-shared vs. One-unshared", 49.5, "start");
label(287, 583, "152-200 ms", 45);
label(1790, 582, "416-448 ms", 45);
label(427, 1283, "180-192 ms", 45);
label(1157, 1285, "180-192 ms", 45);
label(251, 1195, "ip-co", 44);
label(582, 1195, "co-ip", 44);
label(983, 1192, "ip-co", 44);
label(1315, 1192, "co-ip", 44);
</script>
</body>
</html>
